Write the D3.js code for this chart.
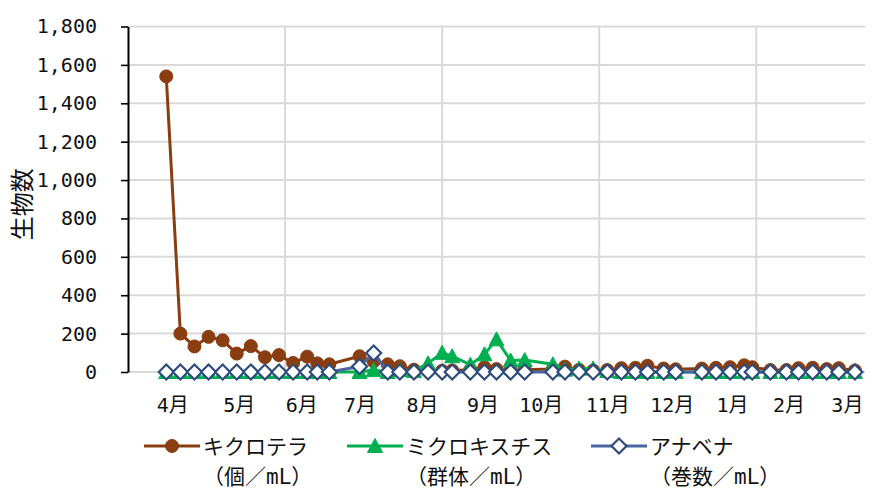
<!DOCTYPE html>
<html>
<head>
<meta charset="utf-8">
<script src="https://cdn.jsdelivr.net/npm/d3@7"></script>
<style>
  html, body { margin: 0; padding: 0; background: #fff; }
  svg { display: block; }
</style>
</head>
<body>
<svg id="chart" width="881" height="488"></svg>
<script>
// Sampling days, counted from 1 April
const sampleDay = [19, 26, 33, 40, 47, 54, 61, 68, 75, 82,
                   89, 94, 100, 115, 122, 129, 135, 142, 149, 156,
                   161, 170, 177, 183, 190, 197, 211, 217, 224, 231,
                   238, 245, 252, 258, 266, 272, 285, 292, 299, 306,
                   310, 319, 327, 333, 340, 347, 353, 361];

// キクロテラ (個/mL)
const kikurotera = [1540, 200, 133, 183, 165, 96, 135, 77, 88, 47,
                    80, 45, 40, 82, 55, 40, 30, 12, 5, 6,
                    8, 12, 25, 15, 8, 12, 15, 28, 12, 8,
                    10, 20, 22, 32, 18, 14, 18, 22, 25, 35,
                    25, 10, 10, 20, 22, 15, 20, 8];

// ミクロキスチス (群体/mL)
const microcystis = [0, 0, 0, 0, 0, 0, 0, 0, 0, 0,
                     0, 0, 0, 0, 10, 0, 10, 5, 45, 100,
                     82, 38, 92, 170, 60, 62, 40, 12, 18, 18,
                     5, 0, 0, 0, 0, 0, 0, 0, 0, 0,
                     0, 0, 0, 0, 0, 0, 0, 0];

// アナベナ (巻数/mL)
const anabaena = [0, 0, 0, 0, 0, 0, 0, 0, 0, 0,
                  0, 0, 0, 29, 99, 0, 0, 0, 0, 0,
                  0, 0, 0, 0, 0, 0, 0, 0, 0, 0,
                  0, 0, 0, 0, 0, 0, 0, 0, 0, 0,
                  0, 0, 0, 0, 0, 0, 0, 0];

const seriesNames = ["キクロテラ", "ミクロキスチス", "アナベナ"];
const seriesUnits = ["（個／mL）", "（群体／mL）", "（巻数／mL）"];

const monthLabels = ["4月", "5月", "6月", "7月", "8月", "9月", "10月", "11月", "12月", "1月", "2月", "3月"];
const monthLabelDay = [22, 55, 86, 115, 146, 176, 205, 238, 270, 300, 328, 357];
const gridDay = [78, 156, 234, 312];
const yTicks = d3.range(0, 1801, 200);
const yTitle = "生物数";

const FONT = "'DejaVu Sans Mono', 'Noto Sans CJK JP', sans-serif";

const svg = d3.select("#chart");
const x = d3.scaleLinear().domain([0, 366]).range([128, 865]);
const y = d3.scaleLinear().domain([0, 1800]).range([372, 26.5]);

// gridlines
const grid = svg.append("g").attr("stroke", "#d9d9d9").attr("stroke-width", 2);
grid.selectAll("line.h").data(yTicks).join("line")
  .attr("class", "h")
  .attr("x1", x.range()[0]).attr("x2", x.range()[1])
  .attr("y1", d => y(d)).attr("y2", d => y(d));
grid.selectAll("line.v").data(gridDay).join("line")
  .attr("class", "v")
  .attr("x1", d => x(d)).attr("x2", d => x(d))
  .attr("y1", y(1800)).attr("y2", y(0));

// y axis
const yAxis = svg.append("g")
  .attr("transform", `translate(${x.range()[0]},0)`)
  .call(d3.axisLeft(y).tickValues(yTicks).tickSize(7).tickSizeOuter(0)
    .tickPadding(24).tickFormat(d3.format(",")));
yAxis.select(".domain").attr("stroke", "#000").attr("stroke-width", 2);
yAxis.selectAll(".tick line").attr("stroke", "#000").attr("stroke-width", 1.6);
yAxis.selectAll(".tick text").attr("font-family", FONT).attr("font-size", 20).attr("fill", "#111");

// month labels
const xAxis = svg.append("g")
  .attr("transform", `translate(0,${y(0)})`)
  .call(d3.axisBottom(x).tickValues(monthLabelDay).tickSize(0).tickPadding(26)
    .tickFormat((d, i) => monthLabels[i]));
xAxis.select(".domain").remove();
xAxis.selectAll(".tick text").attr("font-family", FONT).attr("font-size", 20).attr("fill", "#111");

// y title
svg.append("text")
  .attr("transform", `translate(31,${(y(0) + y(1800)) / 2 + 5}) rotate(-90)`)
  .attr("text-anchor", "middle")
  .attr("font-family", "'Noto Sans CJK JP', sans-serif")
  .attr("font-size", 24).attr("fill", "#111")
  .text(yTitle);

// marker shapes
const markers = {
  circle: g => g.append("circle").attr("r", 6.5),
  triangle: g => g.append("path").attr("d", "M0,-7.5L7.5,6.5L-7.5,6.5Z"),
  diamond: g => g.append("path").attr("d", "M0,-7.5L7.5,0L0,7.5L-7.5,0Z")
};

const series = [
  { values: kikurotera, line: "#8a3d10", fill: "#8a3d10", stroke: "#8a3d10", sw: 1, marker: "circle" },
  { values: microcystis, line: "#00b050", fill: "#00b050", stroke: "#00b050", sw: 1, marker: "triangle" },
  { values: anabaena, line: "#4a66a0", fill: "#ffffff", stroke: "#2f4b7c", sw: 2.2, marker: "diamond" }
];

const lineGen = d3.line().x(d => x(d[0])).y(d => y(d[1]));

series.forEach(s => {
  const pts = sampleDay.map((d, i) => [d, s.values[i]]);
  const g = svg.append("g");
  g.append("path").datum(pts)
    .attr("d", lineGen)
    .attr("fill", "none").attr("stroke", s.line)
    .attr("stroke-width", 3).attr("stroke-linejoin", "round");
  g.selectAll("g.m").data(pts).join("g")
    .attr("class", "m")
    .attr("transform", d => `translate(${x(d[0])},${y(d[1])})`)
    .each(function () {
      markers[s.marker](d3.select(this))
        .attr("fill", s.fill).attr("stroke", s.stroke).attr("stroke-width", s.sw);
    });
});

// legend
const legendX = [144, 347, 591];
const legend = svg.append("g");
series.forEach((s, i) => {
  const lg = legend.append("g").attr("transform", `translate(${legendX[i]},446)`);
  lg.append("line").attr("x1", 0).attr("x2", 56).attr("y1", 0).attr("y2", 0)
    .attr("stroke", s.line).attr("stroke-width", 3);
  markers[s.marker](lg.append("g").attr("transform", "translate(28,0)"))
    .attr("fill", s.fill).attr("stroke", s.stroke).attr("stroke-width", s.sw);
  lg.append("text").attr("x", 59).attr("y", 0).attr("dy", "0.36em")
    .attr("font-family", FONT).attr("font-size", 21).attr("fill", "#111")
    .text(seriesNames[i]);
  lg.append("text").attr("x", 59).attr("y", 30).attr("dy", "0.36em")
    .attr("font-family", FONT).attr("font-size", 21).attr("fill", "#111")
    .text(seriesUnits[i]);
});
</script>
</body>
</html>
